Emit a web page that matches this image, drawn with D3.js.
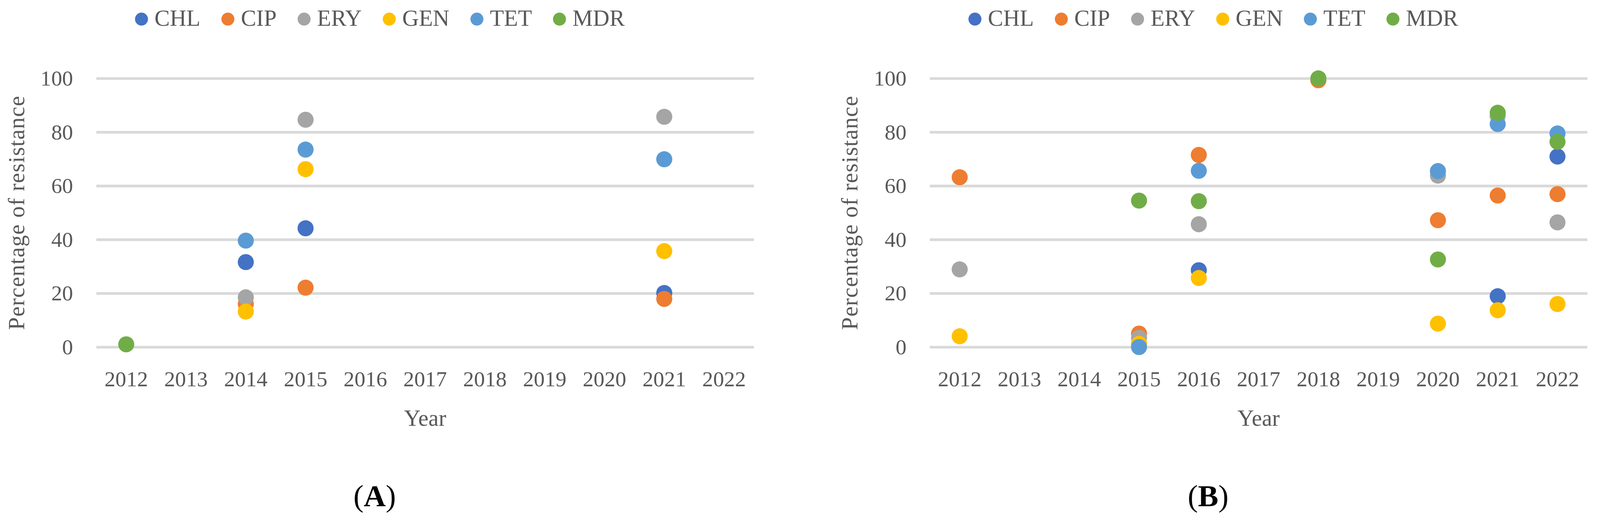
<!DOCTYPE html>
<html>
<head>
<meta charset="utf-8">
<script src="https://cdn.jsdelivr.net/npm/d3@7"></script>
<style>
  html, body { margin: 0; padding: 0; background: #fff; overflow: hidden; }
  #chart { display: block; width: 100vw; height: auto; }
  svg text { font-family: "Liberation Serif", "Times New Roman", serif; fill: #595959; }
</style>
</head>
<body>
<svg id="chart" viewBox="0 0 4185 1362" preserveAspectRatio="xMinYMin meet"></svg>
<script>
/* ── Data ─────────────────────────────────────────────────────────── */
const years   = ['2012','2013','2014','2015','2016','2017','2018','2019','2020','2021','2022'];
const series  = ['CHL', 'CIP', 'ERY', 'GEN', 'TET', 'MDR'];
const yTicks  = [0, 20, 40, 60, 80, 100];

// panel A – one value per year, null = no point
const aCHL = [null, null, 31.6, 44.2, null, null, null, null, null, 20.1, null];
const aCIP = [null, null, 16.0, 22.1, null, null, null, null, null, 17.9, null];
const aERY = [null, null, 18.5, 84.6, null, null, null, null, null, 85.7, null];
const aGEN = [null, null, 13.2, 66.2, null, null, null, null, null, 35.7, null];
const aTET = [null, null, 39.6, 73.5, null, null, null, null, null, 69.9, null];
const aMDR = [1.0,  null, null, null, null, null, null, null, null, null, null];

// panel B
const bCHL = [null, null, null, null, 28.6, null, null, null, null, 18.9, 70.9];
const bCIP = [63.2, null, null, 5.0,  71.5, null, 99.3, null, 47.2, 56.4, 56.9];
const bERY = [28.9, null, null, 3.4,  45.7, null, null, null, 63.8, 86.0, 46.4];
const bGEN = [4.0,  null, null, 1.2,  25.7, null, null, null, 8.7,  13.7, 16.0];
const bTET = [null, null, null, 0.0,  65.6, null, null, null, 65.5, 83.0, 79.5];
const bMDR = [null, null, null, 54.5, 54.3, null, 100,  null, 32.6, 87.2, 76.4];

/* ── Configuration ───────────────────────────────────────────────── */
const COLORS  = ['#4472C4', '#ED7D31', '#A5A5A5', '#FFC000', '#5B9BD5', '#70AD47'];
const PLOT_L  = 252;    // plot left edge inside a panel
const PLOT_W  = 1720;
const PLOT_T  = 205;
const PLOT_B  = 907.7;
const DOT_R   = 21;
const TICK_PX = 57;
const TEXT_PX = 60;

const svg = d3.select('#chart');

function drawPanel(x0, label, rows) {
  const g = svg.append('g').attr('transform', `translate(${x0},0)`);

  const x = d3.scaleBand().domain(years).range([PLOT_L, PLOT_L + PLOT_W]);
  const y = d3.scaleLinear().domain([0, 100]).range([PLOT_B, PLOT_T]);

  /* gridlines + y labels */
  const ya = g.append('g')
    .attr('transform', `translate(${PLOT_L},0)`)
    .call(d3.axisLeft(y).tickValues(yTicks).tickSize(-PLOT_W).tickPadding(61));
  ya.select('.domain').remove();
  ya.selectAll('line').attr('stroke', '#D9D9D9').attr('stroke-width', 7);
  ya.selectAll('text').attr('font-size', TICK_PX).attr('fill', '#595959')
    .style('font-family', '"Liberation Serif", serif');

  /* x labels */
  const xa = g.append('g')
    .attr('transform', `translate(0,${PLOT_B})`)
    .call(d3.axisBottom(x).tickSize(0).tickPadding(62));
  xa.select('.domain').remove();
  xa.selectAll('text').attr('font-size', TICK_PX).attr('fill', '#595959')
    .style('font-family', '"Liberation Serif", serif');

  /* axis titles */
  g.append('text')
    .attr('transform', `translate(63,${(PLOT_T + PLOT_B) / 2}) rotate(-90)`)
    .attr('text-anchor', 'middle')
    .attr('font-size', TEXT_PX)
    .attr('letter-spacing', 1.4)
    .text('Percentage of resistance');

  g.append('text')
    .attr('x', PLOT_L + PLOT_W / 2).attr('y', 1114)
    .attr('text-anchor', 'middle')
    .attr('font-size', TEXT_PX)
    .text('Year');

  /* points – series in order so later ones sit on top */
  rows.forEach((vals, si) => {
    g.append('g').selectAll('circle')
      .data(years.map((yr, i) => ({ yr, v: vals[i] })).filter(d => d.v != null))
      .join('circle')
      .attr('cx', d => x(d.yr) + x.bandwidth() / 2)
      .attr('cy', d => y(d.v))
      .attr('r', DOT_R)
      .attr('fill', COLORS[si]);
  });

  /* legend – centred above the panel */
  const lg = g.append('g');
  let cx = 0;
  series.forEach((s, i) => {
    lg.append('circle').attr('cx', cx).attr('cy', 50).attr('r', 17).attr('fill', COLORS[i]);
    const t = lg.append('text').attr('x', cx + 34).attr('y', 67)
      .attr('font-size', TEXT_PX).text(s);
    cx += 34 + t.node().getComputedTextLength() + 72;
  });
  const bb = lg.node().getBBox();
  lg.attr('transform', `translate(${994 - (bb.x + bb.width / 2)},0)`);

  /* panel label */
  const lab = g.append('text')
    .attr('x', 980).attr('y', 1324)
    .attr('text-anchor', 'middle')
    .attr('font-size', 80)
    .attr('font-weight', 'bold')
    .style('fill', '#000');
  lab.append('tspan').attr('font-weight', 'normal').text('(');
  lab.append('tspan').text(label);
  lab.append('tspan').attr('font-weight', 'normal').text(')');
}

drawPanel(0,    'A', [aCHL, aCIP, aERY, aGEN, aTET, aMDR]);
drawPanel(2180, 'B', [bCHL, bCIP, bERY, bGEN, bTET, bMDR]);
</script>
</body>
</html>
